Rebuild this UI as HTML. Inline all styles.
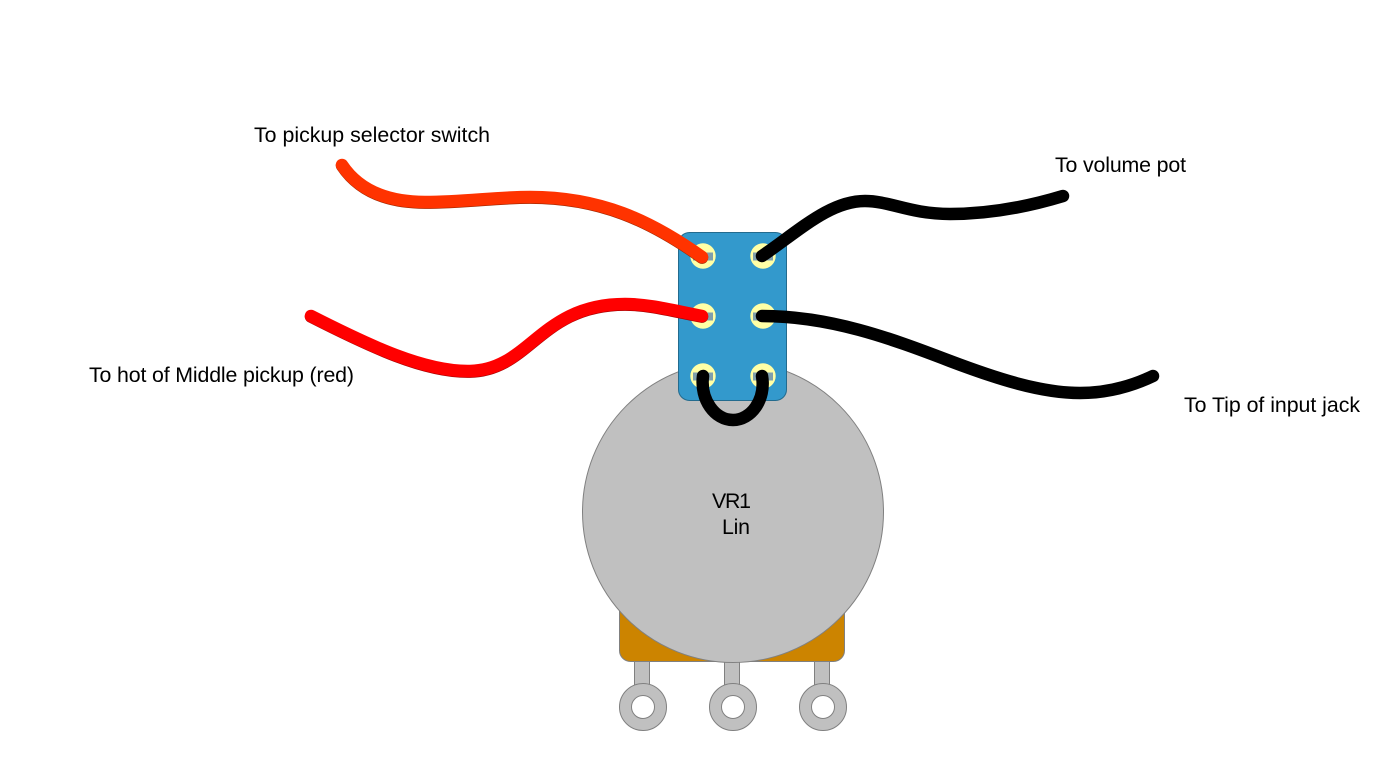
<!DOCTYPE html>
<html>
<head>
<meta charset="utf-8">
<style>
html,body{margin:0;padding:0;background:#fff;width:1386px;height:774px;overflow:hidden}
svg{display:block}
text{font-family:"Liberation Sans",sans-serif;font-size:21.33px;fill:#000}
.w{fill:none;stroke-linecap:round;stroke-linejoin:round}
</style>
</head>
<body>
<svg width="1386" height="774" viewBox="0 0 1386 774" xmlns="http://www.w3.org/2000/svg">
<g fill="#c0c0c0" stroke="#808080" stroke-width="1">
<rect x="634.5" y="655" width="15" height="32"/>
<rect x="724.5" y="655" width="15" height="32"/>
<rect x="814.5" y="655" width="15" height="32"/>
</g>
<rect x="619.5" y="590" width="225" height="71.5" rx="11" fill="#cc8400" stroke="#808080" stroke-width="1"/>
<g fill="#c0c0c0" stroke="#808080" stroke-width="1">
<circle cx="643" cy="707" r="23.5"/>
<circle cx="733" cy="707" r="23.5"/>
<circle cx="823" cy="707" r="23.5"/>
</g>
<g fill="#fff" stroke="#808080" stroke-width="1">
<circle cx="643" cy="707" r="11.5"/>
<circle cx="733" cy="707" r="11.5"/>
<circle cx="823" cy="707" r="11.5"/>
</g>
<circle cx="733" cy="512" r="150.5" fill="#c0c0c0" stroke="#808080" stroke-width="1"/>
<rect x="678.5" y="232.5" width="108" height="168" rx="11" fill="#3399cc" stroke="#236b8e" stroke-width="1"/>
<g fill="#ffffa6">
<circle cx="703" cy="256" r="12.7"/><circle cx="763" cy="256" r="12.7"/>
<circle cx="703" cy="316" r="12.7"/><circle cx="763" cy="316" r="12.7"/>
<circle cx="703" cy="376" r="12.7"/><circle cx="763" cy="376" r="12.7"/>
</g>
<g fill="#7f9fad">
<rect x="693" y="252.5" width="20" height="8"/><rect x="753" y="252.5" width="20" height="8"/>
<rect x="693" y="312.5" width="20" height="8"/><rect x="753" y="312.5" width="20" height="8"/>
<rect x="693" y="372.5" width="20" height="8"/><rect x="753" y="372.5" width="20" height="8"/>
</g>
<path class="w" transform="translate(0,0.6)" d="M342 165C362 195 395 202 425 202C465 202 495 197 530 197C600 197 650 220 702 257" stroke="#992600" stroke-width="12.5"/>
<path class="w" d="M342 165C362 195 395 202 425 202C465 202 495 197 530 197C600 197 650 220 702 257" stroke="#ff3300" stroke-width="12.5"/>
<path class="w" transform="translate(0,0.6)" d="M311 316C370 346 425 372 470 371C530 370 540 304 625 304C650 304 675 311 702 316" stroke="#a00000" stroke-width="12.5"/>
<path class="w" d="M311 316C370 346 425 372 470 371C530 370 540 304 625 304C650 304 675 311 702 316" stroke="#ff0000" stroke-width="12.5"/>
<path class="w" d="M762 256C800 230 830 201 865 201C890 201 910 214 950 214C990 214 1030 206 1063 196" stroke="#000" stroke-width="12.5"/>
<path class="w" d="M762 316C830 316 890 338 950 361C995 378 1040 393 1080 393C1105 393 1130 387 1153 376" stroke="#000" stroke-width="12.5"/>
<path class="w" d="M703 376C700 400 715 420 733 420C751 420 766 400 762 376" stroke="#000" stroke-width="12.5"/>
<text x="254" y="142" textLength="236" lengthAdjust="spacing">To pickup selector switch</text>
<text x="1055" y="172" textLength="131" lengthAdjust="spacing">To volume pot</text>
<text x="89" y="382" textLength="265" lengthAdjust="spacing">To hot of Middle pickup (red)</text>
<text x="1184" y="412" textLength="176" lengthAdjust="spacing">To Tip of input jack</text>
<text x="712" y="508" textLength="39" lengthAdjust="spacing">VR1</text>
<text x="722" y="534" textLength="28" lengthAdjust="spacing">Lin</text>
</svg>
</body>
</html>
